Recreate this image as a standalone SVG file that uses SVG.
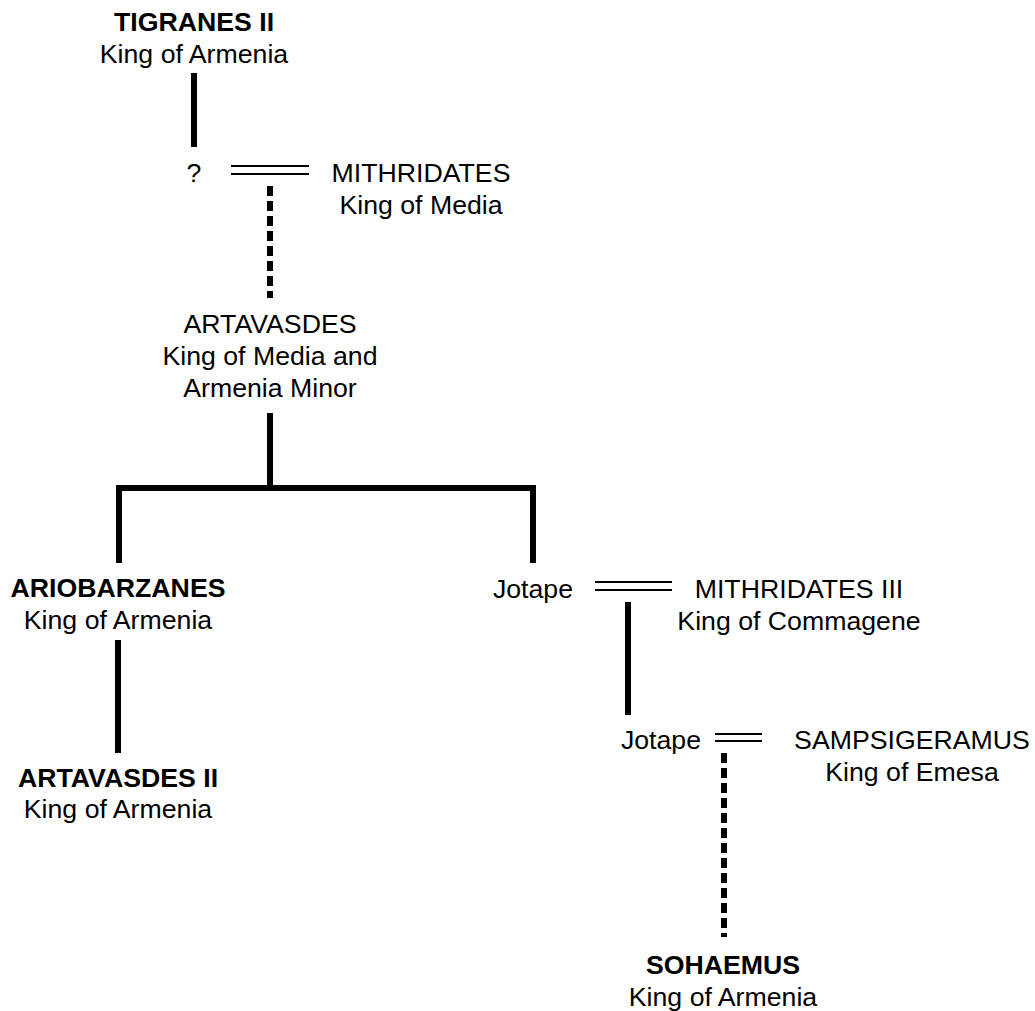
<svg xmlns="http://www.w3.org/2000/svg" width="1035" height="1011" viewBox="0 0 1035 1011">
  <style>
    text { font-family: "Liberation Sans", Arial, sans-serif; font-size: 26.7px; fill: #000; text-anchor: middle; }
    .name-bold { font-weight: bold; }
    .descent { fill: none; stroke: #000; stroke-width: 6; stroke-linejoin: miter; }
    .uncertain { fill: none; stroke: #000; stroke-width: 6; stroke-dasharray: 10 5; }
    .marriage { fill: none; stroke: #000; stroke-width: 2; }
  </style>
  <rect width="1035" height="1011" fill="#fff"/>

  <!-- lines of descent and marriage -->
  <g id="connectors">
    <line class="descent" x1="194" y1="73" x2="194" y2="147"/>
    <line class="marriage" x1="231" y1="166" x2="309" y2="166"/>
    <line class="marriage" x1="231" y1="174" x2="309" y2="174"/>
    <line class="uncertain" x1="270" y1="186" x2="270" y2="298"/>
    <line class="descent" x1="270" y1="413" x2="270" y2="488"/>
    <polyline class="descent" points="119,563 119,488 533,488 533,563"/>
    <line class="descent" x1="118" y1="640" x2="118" y2="753"/>
    <line class="marriage" x1="595" y1="582" x2="672" y2="582"/>
    <line class="marriage" x1="595" y1="590" x2="672" y2="590"/>
    <line class="descent" x1="628" y1="602" x2="628" y2="715"/>
    <line class="marriage" x1="715" y1="734" x2="762" y2="734"/>
    <line class="marriage" x1="715" y1="741" x2="762" y2="741"/>
    <line class="uncertain" x1="724" y1="753" x2="724" y2="937"/>
  </g>

  <g id="tigranes-ii">
    <text class="name-bold" x="194" y="31">TIGRANES II</text>
    <text x="194" y="63">King of Armenia</text>
  </g>

  <g id="unknown-daughter">
    <text x="194" y="182">?</text>
  </g>

  <g id="mithridates-media">
    <text x="421" y="182">MITHRIDATES</text>
    <text x="421" y="214">King of Media</text>
  </g>

  <g id="artavasdes">
    <text x="270" y="333">ARTAVASDES</text>
    <text x="270" y="365">King of Media and</text>
    <text x="270" y="397">Armenia Minor</text>
  </g>

  <g id="ariobarzanes">
    <text class="name-bold" x="118" y="597">ARIOBARZANES</text>
    <text x="118" y="629">King of Armenia</text>
  </g>

  <g id="artavasdes-ii">
    <text class="name-bold" x="118" y="787">ARTAVASDES II</text>
    <text x="118" y="818">King of Armenia</text>
  </g>

  <g id="jotape-1">
    <text x="533" y="598">Jotape</text>
  </g>

  <g id="mithridates-iii">
    <text x="799" y="598">MITHRIDATES III</text>
    <text x="799" y="630">King of Commagene</text>
  </g>

  <g id="jotape-2">
    <text x="661" y="749">Jotape</text>
  </g>

  <g id="sampsigeramus">
    <text x="912" y="749">SAMPSIGERAMUS</text>
    <text x="912" y="781">King of Emesa</text>
  </g>

  <g id="sohaemus">
    <text class="name-bold" x="723" y="974">SOHAEMUS</text>
    <text x="723" y="1006">King of Armenia</text>
  </g>
</svg>
